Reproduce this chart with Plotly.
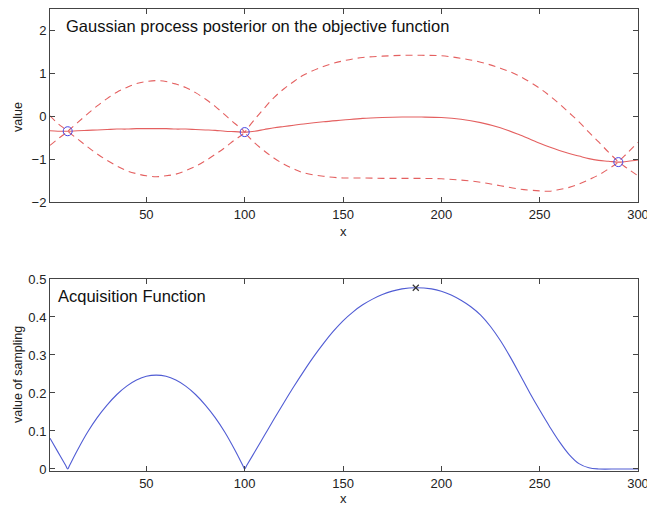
import plotly.graph_objects as go

# ---- Top panel: GP posterior ----
gp_x = [1, 5, 9, 10, 11, 15, 20, 25, 30, 35, 40, 45, 50, 55, 60, 65, 70, 75, 80, 85, 90, 95,
        99, 100, 101, 105, 110, 115, 120, 125, 130, 140, 150, 160, 170, 180, 190, 200, 210, 220,
        230, 240, 250, 255, 260, 265, 270, 275, 280, 285, 289, 290, 291, 295, 300]
gp_mean = [-0.34, -0.35, -0.35, -0.35, -0.35, -0.34, -0.33, -0.32, -0.31, -0.30, -0.30, -0.29,
           -0.29, -0.29, -0.29, -0.30, -0.30, -0.31, -0.32, -0.33, -0.35, -0.36,
           -0.37, -0.37, -0.37, -0.35, -0.31, -0.27, -0.24, -0.21, -0.18, -0.13, -0.09, -0.05,
           -0.03, -0.02, -0.02, -0.03, -0.07, -0.15, -0.27, -0.44, -0.63, -0.72, -0.80, -0.87,
           -0.93, -0.99, -1.03, -1.05, -1.07, -1.07, -1.07, -1.05, -1.02]
gp_upper = [0.01, -0.17, -0.31, -0.35, -0.31, -0.15, 0.05, 0.24, 0.41, 0.56, 0.67, 0.76,
            0.81, 0.83, 0.81, 0.75, 0.67, 0.55, 0.40, 0.23, 0.03, -0.17,
            -0.32, -0.37, -0.31, -0.08, 0.19, 0.44, 0.64, 0.81, 0.96, 1.16, 1.29, 1.37,
            1.40, 1.42, 1.42, 1.41, 1.35, 1.26, 1.12, 0.93, 0.65, 0.48, 0.29, 0.08,
            -0.13, -0.37, -0.60, -0.84, -1.02, -1.07, -1.02, -0.84, -0.61]
gp_lower = [-0.68, -0.53, -0.39, -0.35, -0.39, -0.53, -0.71, -0.88, -1.03, -1.16, -1.27, -1.34,
            -1.39, -1.41, -1.39, -1.35, -1.27, -1.17, -1.04, -0.89, -0.73, -0.55,
            -0.42, -0.37, -0.43, -0.62, -0.81, -0.98, -1.12, -1.23, -1.32, -1.40, -1.44, -1.44,
            -1.45, -1.45, -1.45, -1.46, -1.49, -1.54, -1.62, -1.70, -1.74, -1.75, -1.71, -1.66,
            -1.58, -1.48, -1.37, -1.23, -1.11, -1.07, -1.10, -1.23, -1.39]
obs_x = [10, 100, 290]
obs_y = [-0.35, -0.37, -1.07]

# ---- Bottom panel: acquisition function ----
acq_x = [1, 5, 9, 10, 11, 15, 20, 25, 30, 35, 40, 45, 50, 55, 60, 65, 70, 75, 80, 85, 90, 95,
         99, 100, 101, 105, 110, 115, 120, 125, 130, 135, 140, 145, 150, 155, 160, 165, 170, 175,
         180, 187, 195, 200, 205, 210, 215, 220, 225, 230, 235, 240, 245, 250, 255, 260, 265,
         270, 275, 280, 290, 300]
acq_y = [0.081, 0.045, 0.009, 0.0, 0.010, 0.050, 0.096, 0.135, 0.168, 0.196, 0.218, 0.234,
         0.244, 0.247, 0.244, 0.234, 0.218, 0.196, 0.168, 0.135, 0.096, 0.050,
         0.010, 0.0, 0.009, 0.044, 0.088, 0.132, 0.175, 0.217, 0.257, 0.295, 0.330, 0.362,
         0.390, 0.413, 0.432, 0.447, 0.459, 0.468, 0.474, 0.477, 0.474, 0.468, 0.458, 0.444,
         0.427, 0.405, 0.375, 0.338, 0.295, 0.248, 0.200, 0.155, 0.112, 0.072, 0.038, 0.014,
         0.003, 0.0, 0.0, 0.0]
best_x = [187]
best_y = [0.477]

RED = "rgb(228,96,96)"
BLUE = "rgb(80,92,212)"
AXC = "#444444"
FONT = "Liberation Sans, Arial, sans-serif"

fig = go.Figure()
fig.add_trace(go.Scatter(x=gp_x, y=gp_upper, mode="lines",
                         line=dict(color=RED, width=1.1, dash="7px,5px", shape="spline", smoothing=1),
                         xaxis="x", yaxis="y", showlegend=False))
fig.add_trace(go.Scatter(x=gp_x, y=gp_lower, mode="lines",
                         line=dict(color=RED, width=1.1, dash="7px,5px", shape="spline", smoothing=1),
                         xaxis="x", yaxis="y", showlegend=False))
fig.add_trace(go.Scatter(x=gp_x, y=gp_mean, mode="lines",
                         line=dict(color=RED, width=1.1, shape="spline", smoothing=1),
                         xaxis="x", yaxis="y", showlegend=False))
fig.add_trace(go.Scatter(x=obs_x, y=obs_y, mode="markers",
                         marker=dict(symbol="circle-open", size=9, color="rgb(70,70,230)", line=dict(width=1)),
                         xaxis="x", yaxis="y", showlegend=False))
fig.add_trace(go.Scatter(x=acq_x, y=acq_y, mode="lines",
                         line=dict(color=BLUE, width=1.1, shape="spline", smoothing=1),
                         xaxis="x2", yaxis="y2", showlegend=False))
fig.add_trace(go.Scatter(x=best_x, y=best_y, mode="markers",
                         marker=dict(symbol="x-thin-open", size=6, color="#333333", line=dict(width=1.2, color="#333333")),
                         xaxis="x2", yaxis="y2", showlegend=False))

ax_common = dict(showline=True, linecolor=AXC, linewidth=1, mirror="ticks", ticks="inside",
                 ticklen=5, tickcolor=AXC, showgrid=False, zeroline=False, automargin=False,
                 tickfont=dict(family=FONT, size=13, color="#222222"))

fig.update_layout(
    width=647, height=507,
    margin=dict(l=50, r=9, t=9, b=36, autoexpand=False),
    paper_bgcolor="white", plot_bgcolor="white",
    font=dict(family=FONT, size=12, color="#222222"),
    xaxis=dict(domain=[0, 1], range=[1, 300], tickvals=[50, 100, 150, 200, 250, 300], anchor="y",
               ticklabeloverflow="allow", **ax_common),
    yaxis=dict(domain=[0.5823, 1.0], range=[-2, 2.5], tickvals=[-2, -1, 0, 1, 2], anchor="x", **ax_common),
    xaxis2=dict(domain=[0, 1], range=[1, 300], tickvals=[50, 100, 150, 200, 250, 300], anchor="y2",
                ticklabeloverflow="allow", **ax_common),
    yaxis2=dict(domain=[0, 0.4156], range=[-0.0053, 0.5], tickvals=[0, 0.1, 0.2, 0.3, 0.4, 0.5],
                ticktext=["0", "0.1", "0.2", "0.3", "0.4", "0.5"], anchor="x2", **ax_common),
    annotations=[
        dict(text="Gaussian process posterior on the objective function", xref="paper", yref="paper",
             x=(64 - 50) / 588, y=(471 - 26) / 462, xanchor="left", yanchor="middle", showarrow=False,
             font=dict(family=FONT, size=16.5, color="#111111")),
        dict(text="Acquisition Function", xref="paper", yref="paper",
             x=(56 - 50) / 588, y=(471 - 296) / 462, xanchor="left", yanchor="middle", showarrow=False,
             font=dict(family=FONT, size=16.5, color="#111111")),
        dict(text="value", xref="paper", yref="paper", x=(18 - 50) / 588, y=(471 - 117) / 462,
             textangle=-90, xanchor="center", yanchor="middle", showarrow=False,
             font=dict(family=FONT, size=12.5, color="#222222")),
        dict(text="value of sampling", xref="paper", yref="paper", x=(18 - 50) / 588, y=(471 - 375) / 462,
             textangle=-90, xanchor="center", yanchor="middle", showarrow=False,
             font=dict(family=FONT, size=12.5, color="#222222")),
        dict(text="x", xref="paper", yref="paper", x=(343 - 50) / 588, y=(471 - 231) / 462,
             xanchor="center", yanchor="middle", showarrow=False,
             font=dict(family=FONT, size=13, color="#222222")),
        dict(text="x", xref="paper", yref="paper", x=(343 - 50) / 588, y=(471 - 498) / 462,
             xanchor="center", yanchor="middle", showarrow=False,
             font=dict(family=FONT, size=13, color="#222222")),
    ],
)

fig.write_html("out.html")
